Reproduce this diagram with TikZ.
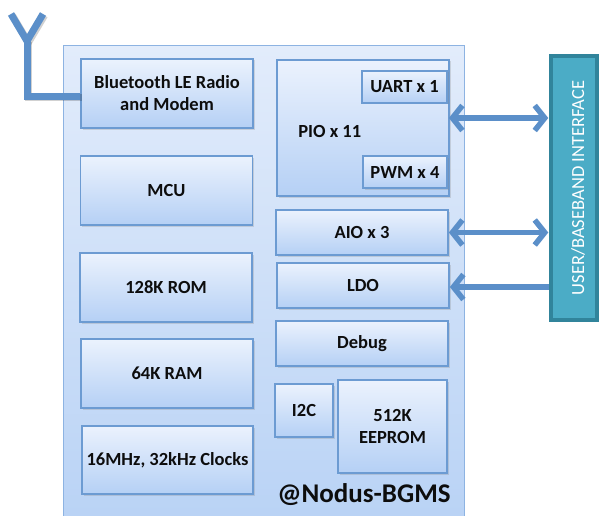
\documentclass[tikz,border=0pt]{standalone}
\usepackage{fontspec}
\setmainfont{Carlito}[BoldFont={Carlito Bold}]
\usetikzlibrary{arrows.meta,shadows}
\definecolor{mainA}{HTML}{E2ECFB}
\definecolor{mainB}{HTML}{B8D2F5}
\definecolor{mainD}{HTML}{8DB3E2}
\definecolor{boxA}{HTML}{EBF2FD}
\definecolor{boxB}{HTML}{B5D0F5}
\definecolor{boxD}{HTML}{6C9BD2}
\definecolor{arrowc}{HTML}{5B8FC9}
\definecolor{ifaceF}{HTML}{4BACC6}
\definecolor{ifaceD}{HTML}{31849B}
\definecolor{txt}{HTML}{0D0D0D}
\tikzset{
  blk/.style={draw=boxD, line width=1.7pt, top color=boxA, bottom color=boxB,
    drop shadow={shadow xshift=1.5pt, shadow yshift=-1.5pt, opacity=0.25},
    text=txt, font=\bfseries\fontsize{18.5}{22}\selectfont, align=center, inner sep=0pt},
  lbltxt/.style={text=txt, font=\bfseries\fontsize{18.5}{22}\selectfont, inner sep=0pt},
  mainbox/.style={draw=mainD, line width=1.4pt, top color=mainA, bottom color=mainB, inner sep=0pt},
  ifacebox/.style={draw=ifaceD, line width=3.5pt, fill=ifaceF, inner sep=0pt},
  conn/.style={draw=arrowc, line width=5.5pt},
  onearr/.style={conn, -{Straight Barb[length=10pt,width=25pt,line width=5.5pt]}},
  twoarr/.style={conn, {Straight Barb[length=10pt,width=25pt,line width=5.5pt]}-{Straight Barb[length=10pt,width=25pt,line width=5.5pt]}},
  antline/.style={draw=arrowc, line width=7pt,
    preaction={draw=black, opacity=0.18, line width=7pt, transform canvas={xshift=1.5pt,yshift=-1.5pt}}},
}
\begin{document}
\begin{tikzpicture}[x=1pt,y=-1pt]
\useasboundingbox (0,0) rectangle (599,516);
\clip (0,0) rectangle (599,516);
\fill[white] (0,0) rectangle (599,516);
% main chip box
\node[mainbox, anchor=north west, minimum width=401pt, minimum height=490pt] (chip) at (63,45) {};
% left column
\node[blk, minimum width=172pt, minimum height=69pt] (bt) at (167,93.5) {Bluetooth LE Radio\\and Modem};
\node[blk, minimum width=172pt, minimum height=69pt] (mcu) at (166.5,190.5) {MCU};
\node[blk, minimum width=172pt, minimum height=69pt] (rom) at (166,287.5) {128K ROM};
\node[blk, minimum width=172pt, minimum height=69pt] (ram) at (167,373.5) {64K RAM};
\node[blk, minimum width=171pt, minimum height=68pt] (clk) at (167.5,460) {16MHz, 32kHz Clocks};
% right column
\node[blk, minimum width=172pt, minimum height=136pt] (pio) at (363,128) {};
\node[lbltxt, anchor=west] (piolbl) at ([xshift=22pt,yshift=-3pt]pio.west) {PIO x 11};
\node[blk, minimum width=85pt, minimum height=32pt] (uart) at (404.5,87) {UART x 1};
\node[blk, minimum width=84pt, minimum height=32pt] (pwm) at (405,172) {PWM x 4};
\node[blk, minimum width=172pt, minimum height=45pt] (aio) at (362,232.5) {AIO x 3};
\node[blk, minimum width=172pt, minimum height=45pt] (ldo) at (363,285.5) {LDO};
\node[blk, minimum width=172pt, minimum height=45pt] (dbg) at (362,343.5) {Debug};
\node[blk, minimum width=58pt, minimum height=53pt] (i2c) at (304,410.5) {I2C};
\node[blk, minimum width=109pt, minimum height=93pt] (eep) at (392.5,426.5) {512K\\EEPROM};
\node[text=txt, font=\bfseries\fontsize{27}{32}\selectfont, inner sep=0pt] (brand) at (364,495) {@Nodus-BGMS};
% interface
\node[ifacebox, minimum width=46pt, minimum height=264pt] (iface) at (574,188) {};
\node[rotate=90, text=white, font=\fontsize{18.5}{22}\selectfont, inner sep=0pt] (ifacelbl) at (578,188) {USER/BASEBAND INTERFACE};
% antenna
\coordinate (ant) at (27,41);
\coordinate (antL) at (11,14);
\coordinate (antR) at (43,14);
\draw[antline] (antL) -- (ant) -- (antR);
\draw[antline] (ant) |- ([yshift=-3pt]bt.west);
% connectors
\draw[twoarr] ([yshift=10pt,xshift=-1pt]pio.east) -- ([yshift=10pt,xshift=-1pt]pio.east -| iface.west);
\draw[twoarr] ([xshift=-1pt]aio.east -| pio.east) -- ([xshift=-1pt]aio.east -| iface.west);
\draw[onearr] ([yshift=-1.5pt]ldo.east -| iface.west) -- ([yshift=-1.5pt]ldo.east);
\end{tikzpicture}
\end{document}
